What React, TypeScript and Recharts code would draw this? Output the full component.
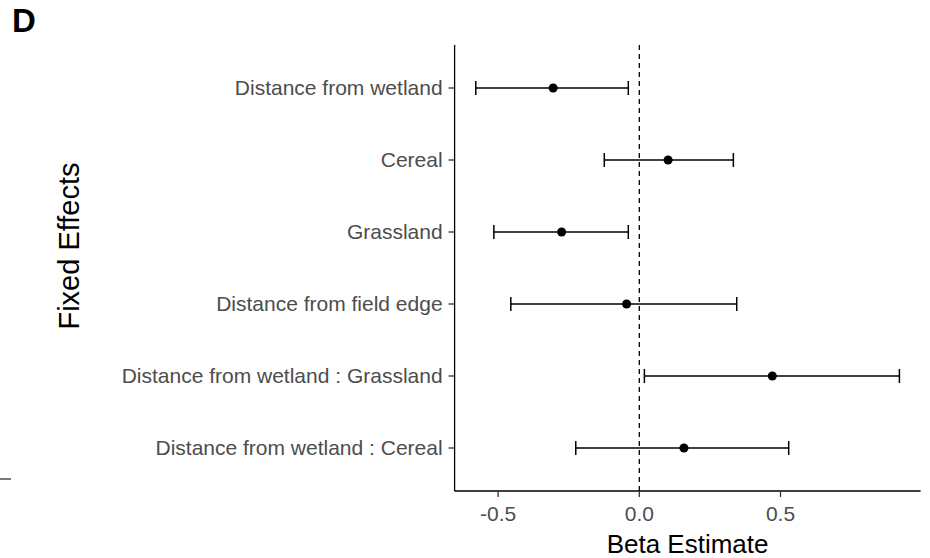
import { ScatterChart, Scatter, XAxis, YAxis, ZAxis, ErrorBar, ReferenceLine } from 'recharts'

const effects = [
  'Distance from wetland',
  'Cereal',
  'Grassland',
  'Distance from field edge',
  'Distance from wetland : Grassland',
  'Distance from wetland : Cereal',
]
const estimates = [-0.305, 0.102, -0.275, -0.045, 0.471, 0.158]
const lower = [-0.579, -0.124, -0.515, -0.455, 0.018, -0.225]
const upper = [-0.039, 0.333, -0.039, 0.345, 0.921, 0.529]
const xTicks = [-0.5, 0, 0.5]

const FONT = '"Liberation Sans", Arial, sans-serif'
const GREY = '#4d4d4d'

const data = effects.map((name, i) => ({
  name,
  est: estimates[i],
  err: [estimates[i] - lower[i], upper[i] - estimates[i]],
}))

export default function App() {
  return (
    <div style={{ position: 'absolute', left: 0, top: 0, width: 930, height: 558, background: '#fff', fontFamily: FONT }}>
      <ScatterChart
        width={930}
        height={558}
        margin={{ top: 45, right: 9.4, bottom: 37, left: 0 }}
      >
        <XAxis
          type="number"
          dataKey="est"
          domain={[-0.654, 0.996]}
          ticks={xTicks}
          tickFormatter={(v: number) => v.toFixed(1)}
          allowDataOverflow
          height={30}
          tickSize={6}
          tickMargin={9}
          stroke="#000"
          strokeWidth={1.3}
          tick={{ fill: GREY, fontSize: 21, fontFamily: FONT }}
          tickLine={{ stroke: '#333', strokeWidth: 1.3 }}
        />
        <YAxis
          type="category"
          dataKey="name"
          reversed
          width={454.6}
          padding={{ top: 7, bottom: 7 }}
          tickSize={6}
          tickMargin={6}
          interval={0}
          stroke="#000"
          strokeWidth={1.3}
          tick={{ fill: GREY, fontSize: 21, fontFamily: FONT }}
          tickLine={{ stroke: '#333', strokeWidth: 1.3 }}
        />
        <ZAxis range={[50, 50]} />
        <ReferenceLine x={0} stroke="#000" strokeWidth={1.3} strokeDasharray="5 4" />
        <Scatter data={data} fill="#000" isAnimationActive={false}>
          <ErrorBar dataKey="err" direction="x" width={7} stroke="#000" strokeWidth={1.5} />
        </Scatter>
      </ScatterChart>

      <div style={{ position: 'absolute', left: 12, top: 2, fontSize: 33, fontWeight: 'bold', color: '#000' }}>D</div>
      <div style={{ position: 'absolute', left: 0, top: 478, width: 11, height: 2, background: '#777' }} />
      <div
        style={{
          position: 'absolute',
          left: 69,
          top: 246,
          transform: 'translate(-50%, -50%) rotate(-90deg)',
          fontSize: 29,
          whiteSpace: 'nowrap',
          color: '#000',
        }}
      >
        Fixed Effects
      </div>
      <div
        style={{
          position: 'absolute',
          left: 687.6,
          top: 544,
          transform: 'translate(-50%, -50%)',
          fontSize: 26,
          whiteSpace: 'nowrap',
          color: '#000',
        }}
      >
        Beta Estimate
      </div>
    </div>
  )
}
